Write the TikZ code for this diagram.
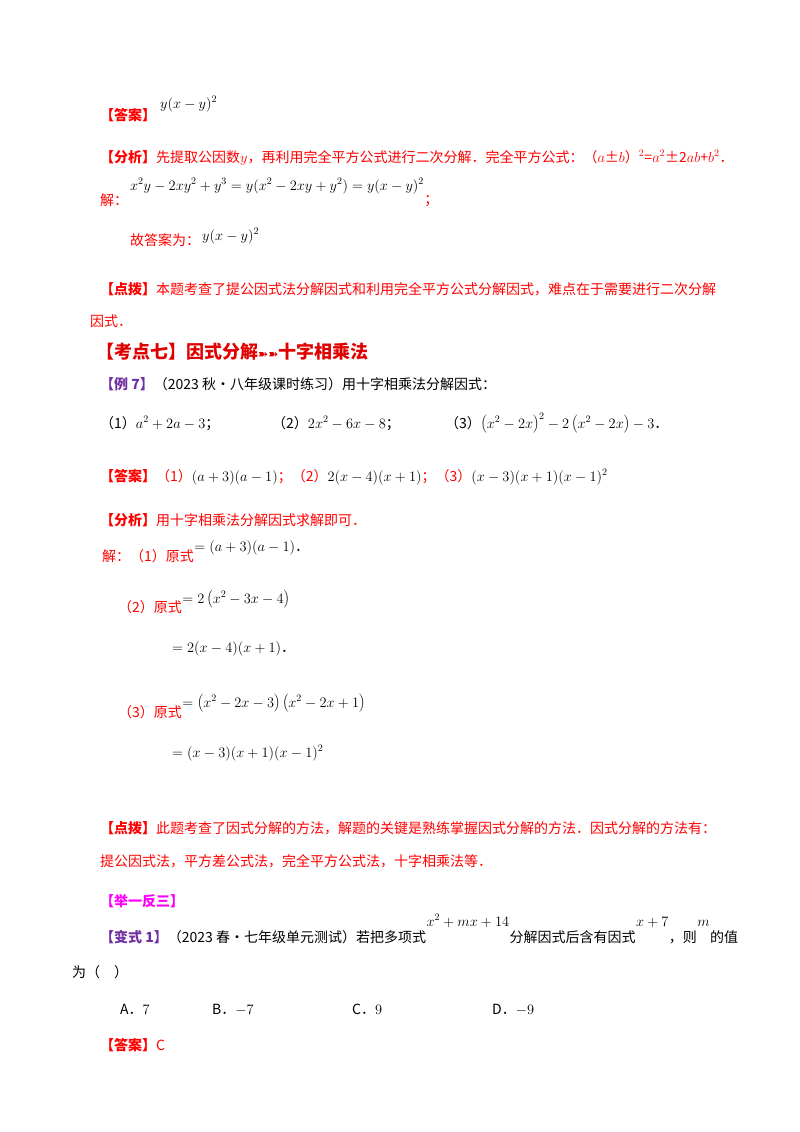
\documentclass[tikz,border=0pt]{standalone}
\usepackage{fontspec}
\setmainfont{Liberation Serif}
\newfontfamily\cjk{Noto Sans CJK SC}
\newfontfamily\sym{DejaVu Sans}
\definecolor{myred}{HTML}{FF0000}
\definecolor{dred}{HTML}{E00000}
\definecolor{mypur}{HTML}{7030A0}
\definecolor{mymag}{HTML}{FF00FF}
\begin{document}
\begin{tikzpicture}[x=1pt,y=-1pt,
  t/.style={anchor=base west,inner sep=0pt,font=\cjk\fontsize{14}{16}\selectfont},
  r/.style={t,text=myred},
  m/.style={anchor=base west,inner sep=0pt,font=\fontsize{14}{16}\selectfont}]
\useasboundingbox[fill=white] (0,0) rectangle (800,1132);
\node[r] (a1) at (100,120) {\textbf{【答案】}};
\node[m] (a1m) at (160,108) {$y(x-y)^2$};
\node[r] (f1) at (100,162) {\textbf{【分析】}先提取公因数$y$，再利用完全平方公式进行二次分解．完全平方公式：（$a$±$b$）$^2$=$a^2$±2$ab$+$b^2$．};
\node[r] (j1) at (100,205) {解：};
\node[m] (j1m) at (130,190) {$x^2y-2xy^2+y^3=y(x^2-2xy+y^2)=y(x-y)^2$};
\node[r] (j1s) at (j1m.base east) [yshift=-14pt] {；};
\node[r] (g1) at (130,245) {故答案为：};
\node[m] (g1m) at (202,240) {$y(x-y)^2$};
\node[r] (d1) at (100,294) {\textbf{【点拨】}本题考查了提公因式法分解因式和利用完全平方公式分解因式，难点在于需要进行二次分解};
\node[r] (d1b) at (90,326) {因式．};
\node[t,text=dred,font=\cjk\bfseries\fontsize{18}{20}\selectfont] (h) at (96,358) {【考点七】因式分解{\sym\fontsize{12}{12}\selectfont ➽➽}十字相乘法};
\node[t] (e7) at (100,389) {\textcolor{mypur}{\textbf{【例 7】}}（2023 秋·八年级课时练习）用十字相乘法分解因式：};
\node[t] (q1) at (100,428) {（1）$a^2+2a-3$；};
\node[t] (q2) at (272,428) {（2）$2x^2-6x-8$；};
\node[t] (q3) at (445,428) {（3）$\left(x^2-2x\right)^2-2\left(x^2-2x\right)-3$．};
\node[r] (a2) at (100,481) {\textbf{【答案】}（1）\textcolor{black}{$(a+3)(a-1)$}；（2）\textcolor{black}{$2(x-4)(x+1)$}；（3）\textcolor{black}{$(x-3)(x+1)(x-1)^2$}};
\node[r] (f2) at (100,525) {\textbf{【分析】}用十字相乘法分解因式求解即可．};
\node[r] (s1) at (102,561) {解：（1）原式};
\node[t] (s1m) at (s1.base east) [yshift=10pt] {$=(a+3)(a-1)$．};
\node[r] (s2) at (118,612) {（2）原式};
\node[m] (s2m) at (s2.base east) [yshift=9pt] {$=2\left(x^2-3x-4\right)$};
\node[t] (s2n) at (172,652) {$=2(x-4)(x+1)$．};
\node[r] (s3) at (118,717) {（3）原式};
\node[m] (s3m) at (s3.base east) [yshift=10pt] {$=\left(x^2-2x-3\right)\left(x^2-2x+1\right)$};
\node[m] (s3n) at (172,757) {$=(x-3)(x+1)(x-1)^2$};
\node[r] (d2) at (100,833) {\textbf{【点拨】}此题考查了因式分解的方法，解题的关键是熟练掌握因式分解的方法．因式分解的方法有：};
\node[r] (d2b) at (100,866) {提公因式法，平方差公式法，完全平方公式法，十字相乘法等．};
\node[t,text=mymag] (jy) at (100,906) {\textbf{【举一反三】}};
\node[t] (b1) at (100,942) {\textcolor{mypur}{\textbf{【变式 1】}}（2023 春·七年级单元测试）若把多项式};
\node[m] (b1m) at (b1.base east) [yshift=16pt] {$x^2+mx+14$};
\node[t] (b1c) at (b1m.base east) [yshift=-16pt] {分解因式后含有因式};
\node[m] (b1d) at (b1c.base east) [yshift=16pt] {$x+7$};
\node[t] (b1e) at (b1d.base east) [yshift=-16pt] {，则};
\node[m] (b1f) at (b1e.base east) [yshift=16pt] {$m$};
\node[t] (b1g) at (b1f.base east) [yshift=-16pt] {的值};
\node[t] (b2) at (72,977) {为（\quad）};
\node[t] (oa) at (120,1014) {A．$7$};
\node[t] (ob) at (212,1014) {B．$-7$};
\node[t] (oc) at (352,1014) {C．$9$};
\node[t] (od) at (492,1014) {D．$-9$};
\node[r] (a3) at (100,1050) {\textbf{【答案】}C};
\end{tikzpicture}
\end{document}
